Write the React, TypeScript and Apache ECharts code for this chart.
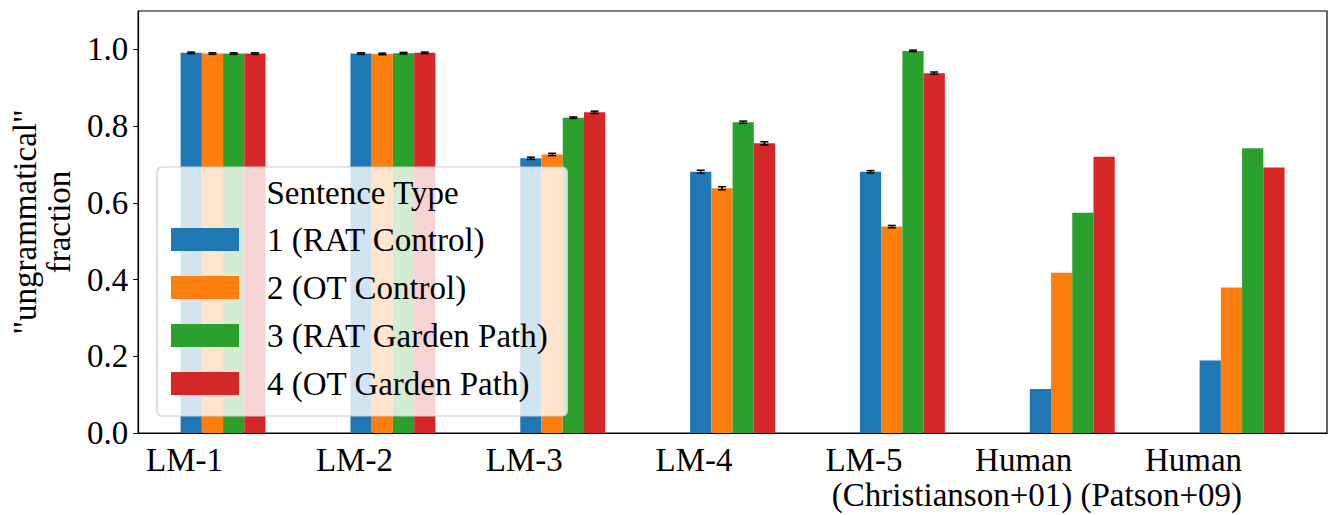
import React, { useEffect, useRef } from "react";
import * as echarts from "echarts";

const categories = [
  "LM-1",
  "LM-2",
  "LM-3",
  "LM-4",
  "LM-5",
  "Human\n(Christianson+01)",
  "Human\n(Patson+09)",
];
const seriesNames = [
  "1 (RAT Control)",
  "2 (OT Control)",
  "3 (RAT Garden Path)",
  "4 (OT Garden Path)",
];
const colors = ["#1f77b4", "#ff7f0e", "#2ca02c", "#d62728"];
const ratControl = [0.991, 0.989, 0.716, 0.681, 0.681, 0.115, 0.189];
const otControl = [0.989, 0.988, 0.726, 0.638, 0.538, 0.418, 0.379];
const ratGarden = [0.989, 0.990, 0.822, 0.810, 0.996, 0.574, 0.742];
const otGarden = [0.989, 0.991, 0.836, 0.755, 0.938, 0.72, 0.692];
const ratControlErr = [0.002, 0.002, 0.003, 0.004, 0.003, 0, 0];
const otControlErr = [0.002, 0.002, 0.003, 0.004, 0.003, 0, 0];
const ratGardenErr = [0.002, 0.002, 0.002, 0.003, 0.002, 0, 0];
const otGardenErr = [0.002, 0.002, 0.003, 0.004, 0.003, 0, 0];
const yTicks = [0, 0.2, 0.4, 0.6, 0.8, 1.0];
const yAxisName = '"ungrammatical"\nfraction';
const legendTitle = "Sentence Type";

const FONT = "Liberation Serif";

export default function App() {
  const ref = useRef<HTMLDivElement>(null);
  useEffect(() => {
    if (!ref.current) return;
    const chart = echarts.init(ref.current, null, { renderer: "svg" });
    const values = [ratControl, otControl, ratGarden, otGarden];
    const errs = [ratControlErr, otControlErr, ratGardenErr, otGardenErr];
    const errData: number[][] = [];
    values.forEach((vals, s) => {
      vals.forEach((v, c) => {
        if (errs[s][c] > 0) errData.push([c, s, v, errs[s][c]]);
      });
    });
    const barSeries = values.map((vals, i) => ({
      name: seriesNames[i],
      type: "bar",
      data: vals,
      barGap: "0%",
      barCategoryGap: "50%",
      itemStyle: { color: colors[i] },
      z: 2,
    }));
    chart.setOption({
      animation: false,
      grid: {
        left: 138,
        right: 3,
        top: 11,
        bottom: 82,
        show: true,
        borderColor: "#000",
        borderWidth: 1.2,
        backgroundColor: "transparent",
      },
      xAxis: {
        type: "category",
        data: categories,
        boundaryGap: true,
        axisLine: { lineStyle: { color: "#000", width: 1.2 } },
        axisTick: { alignWithLabel: true, length: 5, lineStyle: { color: "#000" } },
        axisLabel: {
          interval: 0,
          align: "right",
          margin: 9,
          color: "#000",
          fontFamily: FONT,
          fontSize: 33,
          lineHeight: 35,
        },
      },
      yAxis: {
        type: "value",
        min: 0,
        max: 1.1,
        interval: 0.2,
        splitLine: { show: false },
        axisLine: { show: true, lineStyle: { color: "#000", width: 1.2 } },
        axisTick: { show: true, length: 5, customValues: yTicks, lineStyle: { color: "#000" } },
        axisLabel: {
          customValues: yTicks,
          formatter: (v: number) => v.toFixed(1),
          margin: 10,
          color: "#000",
          fontFamily: FONT,
          fontSize: 33,
        },
        name: yAxisName,
        nameLocation: "middle",
        nameRotate: 90,
        nameGap: 60,
        nameTextStyle: {
          color: "#000",
          fontFamily: FONT,
          fontSize: 33,
          lineHeight: 34,
        },
      },
      legend: {
        data: seriesNames,
        orient: "vertical",
        left: 157,
        top: 167,
        itemWidth: 68,
        itemHeight: 23,
        itemGap: 15,
        icon: "rect",
        selectedMode: false,
        padding: [56, 19, 16, 14],
        backgroundColor: "rgba(255,255,255,0.8)",
        borderColor: "#cccccc",
        borderWidth: 1.2,
        borderRadius: 5,
        textStyle: {
          color: "#000",
          fontFamily: FONT,
          fontSize: 33,
          lineHeight: 33,
          padding: [0, 0, 0, 23],
        },
        z: 5,
      },
      graphic: [
        {
          type: "text",
          x: 362.5,
          y: 193,
          z: 100,
          style: {
            text: legendTitle,
            font: `33px "${FONT}"`,
            fill: "#000",
            textAlign: "center",
            textVerticalAlign: "middle",
          },
        },
      ],
      series: [
        ...barSeries,
        {
          type: "custom",
          name: "errors",
          data: errData,
          z: 3,
          encode: { x: 0, y: 2 },
          renderItem: (params: any, api: any) => {
            const c = api.value(0);
            const s = api.value(1);
            const v = api.value(2);
            const e = api.value(3);
            const band = api.size([1, 0])[0];
            const bw = (band * 0.5) / 4;
            const p = api.coord([c, v]);
            const x = p[0] + (s - 1.5) * bw;
            const yTop = api.coord([c, v + e])[1];
            const yBot = api.coord([c, v - e])[1];
            const half = 4;
            const st = { stroke: "#000", lineWidth: 1.5 };
            return {
              type: "group",
              children: [
                { type: "line", shape: { x1: x, y1: yTop, x2: x, y2: yBot }, style: st },
                { type: "line", shape: { x1: x - half, y1: yTop, x2: x + half, y2: yTop }, style: st },
                { type: "line", shape: { x1: x - half, y1: yBot, x2: x + half, y2: yBot }, style: st },
              ],
            };
          },
        },
      ],
    });
    return () => chart.dispose();
  }, []);
  return (
    <div
      ref={ref}
      style={{ position: "fixed", left: 0, top: 0, width: 1330, height: 515, background: "#fff" }}
    />
  );
}
